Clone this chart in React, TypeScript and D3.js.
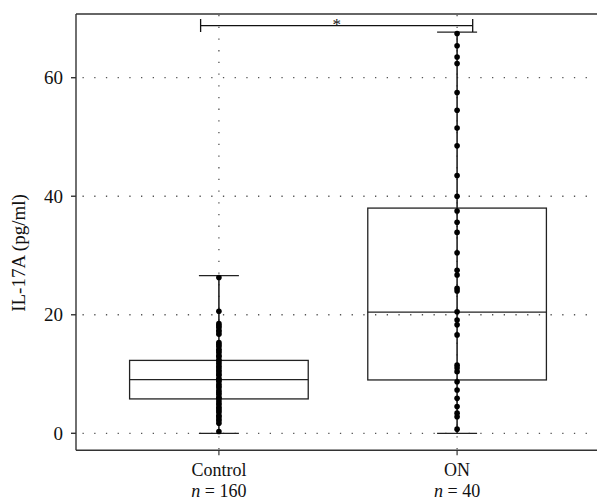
import React from "react"
import * as d3 from "d3"

// groups and their sample sizes
const categories = ["Control", "ON"]
const counts = [160, 40]

// box summary per group (pg/ml)
const whiskerLow = [0, 0]
const boxLow = [5.8, 9.0]
const boxMedian = [9.05, 20.45]
const boxHigh = [12.3, 38.0]
const whiskerHigh = [26.6, 67.7]

const controlPoints = [
	26.3, 20.6, 18.5, 18.2, 17.9, 17.4, 17.1, 16.7, 15.3, 15.0, 14.7, 14.2,
	13.9, 13.6, 13.1, 12.9, 12.4, 12.2, 11.8, 11.4, 11.1, 10.7, 10.4, 10.0,
	9.8, 9.3, 9.0, 8.8, 8.3, 8.0, 7.7, 7.2, 6.9, 6.6, 6.1, 5.9, 5.5, 5.1,
	4.8, 4.4, 4.1, 3.8, 3.5, 3.0, 2.8, 2.4, 2.1, 1.7, 0.3,
]
const onPoints = [
	67.45, 65.4, 63.5, 62.4, 57.5, 54.5, 51.5, 48.5, 43.5, 40.0, 37.5, 35.6,
	33.9, 30.45, 27.5, 26.7, 24.45, 24.0, 20.5, 19.1, 18.3, 16.6, 11.5, 11.0,
	10.4, 8.7, 7.3, 5.9, 4.5, 3.4, 2.8, 0.7,
]
const pointSets = [controlPoints, onPoints]

const yTicks = [0, 20, 40, 60]
const yLabel = "IL-17A (pg/ml)"
const significance = "*"

const width = 597
const height = 504
const left = 76
const top = 14
const bottom = 450.3

const x = d3.scalePoint().domain(categories).range([left, 600]).padding(0.6)
const y = d3.scaleLinear().domain([-2.87, 70.75]).range([bottom, top])

const font = "'Liberation Serif', 'Times New Roman', serif"
const ink = "#222"
const grid = "#555"
const fs = 19

const App = () => {
	const step = x.step()
	const boxW = step * 0.75
	const capW = 40
	const bx0 = x(categories[0]) - 18.3
	const bx1 = x(categories[1]) + 15.6
	const by = 25.7

	return (
		<svg
			width={width}
			height={height}
			style={{ position: "absolute", left: 0, top: 0, background: "#fff" }}
			fontFamily={font}
		>
			{/* dotted grid */}
			{yTicks.map(t => (
				<line
					key={"h" + t}
					x1={left + 6.5}
					x2={width}
					y1={y(t)}
					y2={y(t)}
					stroke={grid}
					strokeWidth={1.3}
					strokeDasharray="1.3 10.4"
				/>
			))}
			{categories.map(c => (
				<line
					key={"v" + c}
					x1={x(c)}
					x2={x(c)}
					y1={top + 1}
					y2={bottom}
					stroke={grid}
					strokeWidth={1.3}
					strokeDasharray="1.3 10.4"
				/>
			))}

			{/* boxes */}
			{categories.map((c, i) => {
				const cx = x(c)
				return (
					<g key={"b" + c} stroke={ink} fill="none" strokeWidth={1.3}>
						<line x1={cx} x2={cx} y1={y(whiskerLow[i])} y2={y(whiskerHigh[i])} strokeWidth={1.6} />
						<line x1={cx - capW / 2} x2={cx + capW / 2} y1={y(whiskerHigh[i])} y2={y(whiskerHigh[i])} />
						<line x1={cx - capW / 2} x2={cx + capW / 2} y1={y(whiskerLow[i])} y2={y(whiskerLow[i])} />
						<rect
							x={cx - boxW / 2}
							y={y(boxHigh[i])}
							width={boxW}
							height={y(boxLow[i]) - y(boxHigh[i])}
						/>
						<line x1={cx - boxW / 2} x2={cx + boxW / 2} y1={y(boxMedian[i])} y2={y(boxMedian[i])} />
					</g>
				)
			})}

			{/* points */}
			{categories.map((c, i) =>
				pointSets[i].map((v, j) => (
					<circle key={c + j} cx={x(c)} cy={y(v)} r={2.8} fill="#000" />
				)),
			)}

			{/* axes */}
			<g stroke="#333" strokeWidth={1.4} fill="none">
				<line x1={left} x2={width} y1={top} y2={top} />
				<line x1={left} x2={left} y1={top} y2={bottom} />
				<line x1={left} x2={width} y1={bottom} y2={bottom} />
				{yTicks.map(t => (
					<line key={"yt" + t} x1={left - 5} x2={left} y1={y(t)} y2={y(t)} />
				))}
				{categories.map(c => (
					<line key={"xt" + c} x1={x(c)} x2={x(c)} y1={bottom} y2={bottom + 5} strokeWidth={1.2} />
				))}
			</g>
			{yTicks.map(t => (
				<text key={"yl" + t} x={63} y={y(t)} dy="0.35em" textAnchor="end" fontSize={fs} fill="#111">
					{t}
				</text>
			))}
			{categories.map((c, i) => (
				<g key={"xl" + c} fontSize={18} fill="#111" textAnchor="middle">
					<text x={x(c)} y={476}>{c}</text>
					<text x={x(c)} y={496.5}>
						<tspan fontStyle="italic">n</tspan> = {counts[i]}
					</text>
				</g>
			))}
			<text
				transform={`translate(25,253) rotate(-90)`}
				textAnchor="middle"
				fontSize={fs}
				fill="#111"
			>
				{yLabel}
			</text>

			{/* significance bracket */}
			<g stroke="#111" strokeWidth={1.3}>
				<line x1={bx0} x2={bx1} y1={by} y2={by} />
				<line x1={bx0} x2={bx0} y1={19} y2={32} />
				<line x1={bx1} x2={bx1} y1={19} y2={32} />
			</g>
			<text x={(bx0 + bx1) / 2} y={30} textAnchor="middle" fontSize={17} fill="#111">
				{significance}
			</text>
		</svg>
	)
}

export default App
